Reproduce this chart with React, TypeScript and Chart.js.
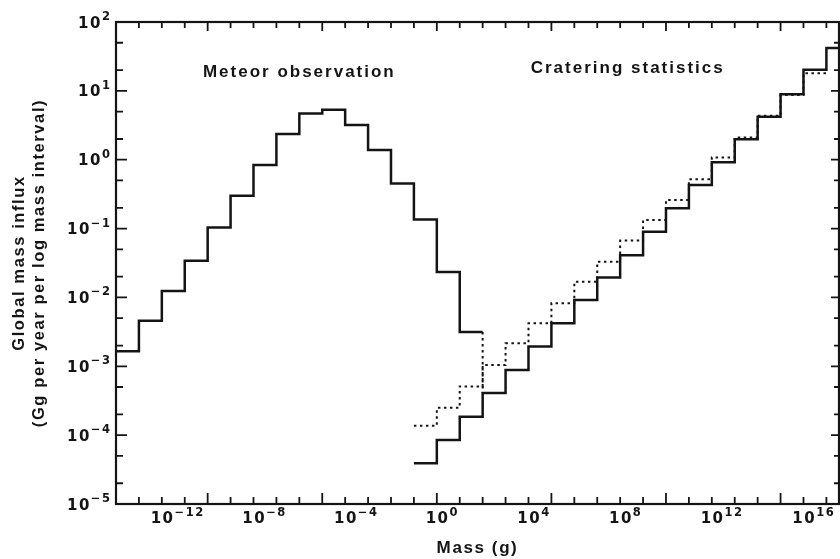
import React, { useEffect, useRef } from 'react';
import { Chart, registerables } from 'chart.js';

Chart.register(...registerables);

// ---- data (x in log10 of mass in grams, y in Gg per year per log mass interval) ----
const meteorEdges = [-14, -13, -12, -11, -10, -9, -8, -7, -6, -5, -4, -3, -2, -1, 0, 1, 2];
const meteorValues = [1.66e-3, 4.6e-3, 1.24e-2, 3.4e-2, 0.104, 0.3, 0.84, 2.36, 4.7, 5.3, 3.2, 1.38, 0.45, 0.136, 0.0235, 3.15e-3];

const meteorTailX = [2, 2];
const meteorTailY = [3.15e-3, 4.1e-4];

const crateringEdges = [-1, 0, 1, 2, 3, 4, 5, 6, 7, 8, 9, 10, 11, 12, 13, 14, 15, 16, 17, 18];
const crateringSolid = [3.9e-5, 8.5e-5, 1.85e-4, 4.1e-4, 8.8e-4, 1.93e-3, 4.2e-3, 9.2e-3, 1.94e-2, 4.1e-2, 9.0e-2, 0.197, 0.43, 0.92, 1.98, 4.2, 8.9, 20.3, 42];

const crateringDottedEdges = [-1, 0, 1, 2, 3, 4, 5, 6, 7, 8, 9, 10, 11, 12, 13, 14, 15, 16, 17];
const crateringDotted = [1.37e-4, 2.5e-4, 5.1e-4, 1.04e-3, 2.16e-3, 4.2e-3, 8.2e-3, 1.69e-2, 3.3e-2, 6.7e-2, 0.133, 0.26, 0.52, 1.08, 2.1, 4.36, 8.7, 18];

const annotationTexts = ['Meteor observation', 'Cratering statistics'];
const annotationX = [-6.0, 8.33];
const annotationY = [18.8, 21.0];

// ---- axes ----
const xMin = -14;
const xMax = 17.55;
const xLabelDecades = [-12, -8, -4, 0, 4, 8, 12, 16];
const xMajorTickDecades = [-10, -5, 0, 5, 10, 15];
const xTickDecades = [-13, -12, -11, -10, -9, -8, -7, -6, -5, -4, -3, -2, -1, 0, 1, 2, 3, 4, 5, 6, 7, 8, 9, 10, 11, 12, 13, 14, 15, 16, 17];

const yMin = 1e-5;
const yMax = 1e2;
const yDecades = [-5, -4, -3, -2, -1, 0, 1, 2];
const yMinorMultipliers = [2, 5];

const FONT = '"Liberation Sans", Arial, Helvetica, "DejaVu Sans", sans-serif';
const TICK_FONT = '"DejaVu Sans", "Liberation Sans", sans-serif';
const INK = '#141414';

const expText = (n: number) => String(n).replace('-', '\u2212');

const yTickValues: number[] = [];
yDecades.forEach((d) => {
  yTickValues.push(Math.pow(10, d));
  if (d < 2) yMinorMultipliers.forEach((m) => yTickValues.push(m * Math.pow(10, d)));
});
yTickValues.sort((a, b) => a - b);

const isDecade = (v: number) => Math.abs(Math.log10(v) - Math.round(Math.log10(v))) < 1e-9;

const steps = (edges: number[], values: number[]) => {
  const pts = values.map((v, i) => ({ x: edges[i], y: v }));
  pts.push({ x: edges[edges.length - 1], y: values[values.length - 1] });
  return pts;
};

const BASE_FONT = `bold 15px ${TICK_FONT}`;
const EXP_FONT = `bold 11.5px ${TICK_FONT}`;
const LS = 1.5;

const framePlugin = {
  id: 'frameTicks',
  beforeUpdate(chart: any) {
    chart.ctx.letterSpacing = '1.6px';
  },
  beforeDraw(chart: any) {
    chart.ctx.letterSpacing = '1.6px';
  },
  afterDatasetsDraw(chart: any) {
    const { ctx, chartArea, scales } = chart;
    const { left, right, top, bottom } = chartArea;
    const xs = scales.x;
    const ys = scales.y;
    ctx.save();
    ctx.strokeStyle = INK;
    ctx.lineWidth = 2.2;
    ctx.strokeRect(left, top, right - left, bottom - top);
    ctx.lineWidth = 1.8;
    ctx.beginPath();
    xTickDecades.forEach((d) => {
      const px = xs.getPixelForValue(d);
      const major = xMajorTickDecades.includes(d);
      ctx.moveTo(px, bottom);
      ctx.lineTo(px, bottom - (major ? 11 : 7));
      ctx.moveTo(px, top);
      ctx.lineTo(px, top + (major ? 9 : 6));
    });
    yTickValues.forEach((v) => {
      const py = ys.getPixelForValue(v);
      const major = isDecade(v);
      ctx.moveTo(left, py);
      ctx.lineTo(left + (major ? 11 : 7), py);
      ctx.moveTo(right, py);
      ctx.lineTo(right - (major ? 8 : 5), py);
    });
    ctx.stroke();

    // power-of-ten tick labels: base "10" with raised exponent
    ctx.fillStyle = INK;
    ctx.letterSpacing = `${LS}px`;
    ctx.textAlign = 'left';
    ctx.textBaseline = 'alphabetic';
    xLabelDecades.forEach((n) => {
      const px = xs.getPixelForValue(n);
      ctx.font = BASE_FONT;
      const wb = ctx.measureText('10').width - LS;
      const bx = px - wb / 2;
      const by = bottom + 19;
      ctx.fillText('10', bx, by);
      ctx.font = EXP_FONT;
      ctx.fillText(expText(n), bx + wb + 1.5, by - 7);
    });
    yDecades.forEach((n) => {
      const py = ys.getPixelForValue(Math.pow(10, n));
      ctx.font = EXP_FONT;
      const we = ctx.measureText(expText(n)).width - LS;
      const ex = left - 6 - we;
      ctx.fillText(expText(n), ex, py - 2);
      ctx.font = BASE_FONT;
      const wb = ctx.measureText('10').width - LS;
      ctx.fillText('10', ex - 1.5 - wb, py + 5.5);
    });

    ctx.font = `bold 17px ${FONT}`;
    ctx.letterSpacing = '2px';
    ctx.textAlign = 'center';
    ctx.textBaseline = 'middle';
    annotationTexts.forEach((t, i) => {
      ctx.fillText(t, xs.getPixelForValue(annotationX[i]), ys.getPixelForValue(annotationY[i]));
    });
    ctx.restore();
  },
};

export default function App() {
  const ref = useRef<HTMLCanvasElement>(null);
  useEffect(() => {
    const canvas = ref.current!;
    const chart = new Chart(canvas, {
      type: 'line',
      data: {
        datasets: [
          {
            label: 'Meteor observation',
            data: steps(meteorEdges, meteorValues),
            stepped: 'before',
            borderColor: INK,
            borderWidth: 2.5,
            pointRadius: 0,
            fill: false,
            order: 1,
          },
          {
            label: 'Meteor tail',
            data: meteorTailX.map((x, i) => ({ x, y: meteorTailY[i] })),
            borderColor: INK,
            borderWidth: 2,
            borderDash: [2.5, 3.5],
            pointRadius: 0,
            fill: false,
            order: 3,
          },
          {
            label: 'Cratering statistics (dotted)',
            data: steps(crateringDottedEdges, crateringDotted),
            stepped: 'before',
            borderColor: INK,
            borderWidth: 2,
            borderDash: [2.5, 3.5],
            pointRadius: 0,
            fill: false,
            order: 2,
          },
          {
            label: 'Cratering statistics',
            data: steps(crateringEdges, crateringSolid),
            stepped: 'before',
            borderColor: INK,
            borderWidth: 2.5,
            pointRadius: 0,
            fill: false,
            order: 0,
          },
        ],
      },
      options: {
        animation: false,
        responsive: false,
        maintainAspectRatio: false,
        layout: { padding: { top: 22, right: 1, left: 0, bottom: 0 } },
        plugins: { legend: { display: false }, tooltip: { enabled: false } },
        scales: {
          x: {
            type: 'linear',
            min: xMin,
            max: xMax,
            afterBuildTicks: (s: any) => {
              s.ticks = xTickDecades.map((v) => ({ value: v }));
            },
            afterFit: (s: any) => {
              s.height = 55;
            },
            grid: { display: false, drawTicks: false },
            border: { display: false },
            ticks: { display: false, autoSkip: false, maxRotation: 0, minRotation: 0 },
            title: {
              display: true,
              text: 'Mass (g)',
              color: INK,
              font: { family: FONT, size: 17, weight: 'bold', lineHeight: 1.2 },
              padding: { top: 0, bottom: 0 },
            },
          },
          y: {
            type: 'logarithmic',
            min: yMin,
            max: yMax,
            afterBuildTicks: (s: any) => {
              s.ticks = yTickValues.map((v) => ({ value: v }));
            },
            afterFit: (s: any) => {
              s.width = 116;
            },
            grid: { display: false, drawTicks: false },
            border: { display: false },
            ticks: { display: false, autoSkip: false },
            title: {
              display: true,
              text: ['Global mass influx', '(Gg per year per log mass interval)'],
              color: INK,
              font: { family: FONT, size: 16.5, weight: 'bold', lineHeight: 1.2 },
              padding: { top: 10, bottom: 0 },
            },
          },
        },
      },
      plugins: [framePlugin],
    } as any);
    return () => chart.destroy();
  }, []);

  return (
    <div style={{ position: 'fixed', left: 0, top: 0, width: 840, height: 559, background: '#fff' }}>
      <canvas ref={ref} width={840} height={559} style={{ display: 'block', width: 840, height: 559 }} />
    </div>
  );
}
